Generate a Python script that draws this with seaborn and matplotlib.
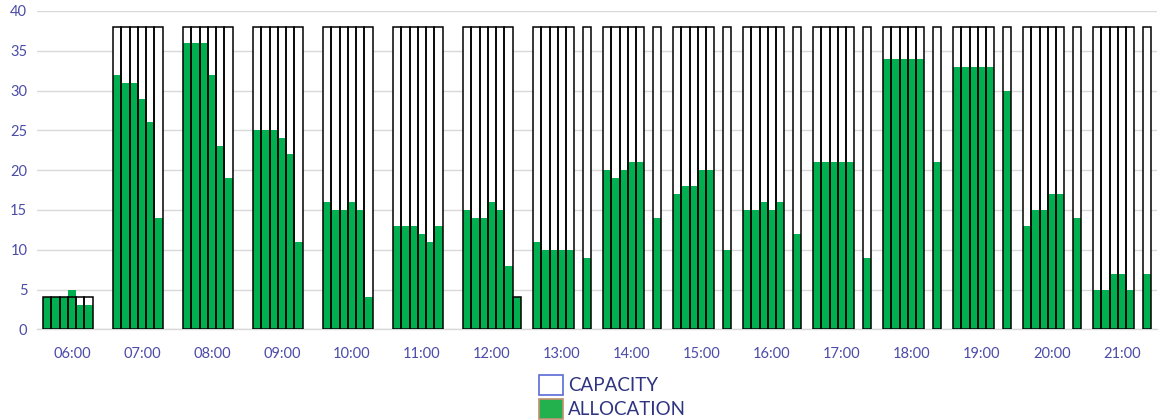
import matplotlib
matplotlib.use('Agg')
import matplotlib.pyplot as plt
from matplotlib.patches import Patch
import pandas as pd
import seaborn as sns
import numpy as np


# chart data (7 slots per hour, None = no bar)
hours = ['06:00', '07:00', '08:00', '09:00', '10:00', '11:00', '12:00', '13:00',
         '14:00', '15:00', '16:00', '17:00', '18:00', '19:00', '20:00', '21:00']
slots = ['S1', 'S2', 'S3', 'S4', 'S5', 'S6', 'S7']

capacity = [
    [4, 4, 4, 4, 4, 4, None],
    [38, 38, 38, 38, 38, 38, None],
    [38, 38, 38, 38, 38, 38, None],
    [38, 38, 38, 38, 38, 38, None],
    [38, 38, 38, 38, 38, 38, None],
    [38, 38, 38, 38, 38, 38, None],
    [38, 38, 38, 38, 38, 38, 4],
    [38, 38, 38, 38, 38, None, 38],
    [38, 38, 38, 38, 38, None, 38],
    [38, 38, 38, 38, 38, None, 38],
    [38, 38, 38, 38, 38, None, 38],
    [38, 38, 38, 38, 38, None, 38],
    [38, 38, 38, 38, 38, None, 38],
    [38, 38, 38, 38, 38, None, 38],
    [38, 38, 38, 38, 38, None, 38],
    [38, 38, 38, 38, 38, None, 38],
]

allocation = [
    [4, 4, 4, 5, 3, 3, None],
    [32, 31, 31, 29, 26, 14, None],
    [36, 36, 36, 32, 23, 19, None],
    [25, 25, 25, 24, 22, 11, None],
    [16, 15, 15, 16, 15, 4, None],
    [13, 13, 13, 12, 11, 13, None],
    [15, 14, 14, 16, 15, 8, 4],
    [11, 10, 10, 10, 10, None, 9],
    [20, 19, 20, 21, 21, None, 14],
    [17, 18, 18, 20, 20, None, 10],
    [15, 15, 16, 15, 16, None, 12],
    [21, 21, 21, 21, 21, None, 9],
    [34, 34, 34, 34, 34, None, 21],
    [33, 33, 33, 33, 33, None, 30],
    [13, 15, 15, 17, 17, None, 14],
    [5, 5, 7, 7, 5, None, 7],
]

# long table for seaborn
rows = []
for h, cap_row, al_row in zip(hours, capacity, allocation):
    for s, c, a in zip(slots, cap_row, al_row):
        rows.append({'hour': h, 'slot': s, 'capacity': c, 'allocation': a})
df = pd.DataFrame(rows)
cap_df = df.dropna(subset=['capacity'])
al_df = df.dropna(subset=['allocation'])

sns.set_style('white')
plt.rcParams['font.family'] = ['Lato', 'DejaVu Sans']

fig = plt.figure(figsize=(11.68, 4.2), dpi=100)
ax = fig.add_axes([37 / 1168, 1 - 329.3 / 420, 1120 / 1168, 318.3 / 420])

green = '#00B050'
bw = 0.833

# white fill of the capacity bars (hides grid)
sns.barplot(data=cap_df, x='hour', y='capacity', hue='slot', order=hours, hue_order=slots,
            palette=['white'] * 7, saturation=1, width=bw, dodge=True, errorbar=None,
            legend=False, linewidth=0, ax=ax, zorder=1)
# allocation bars
sns.barplot(data=al_df, x='hour', y='allocation', hue='slot', order=hours, hue_order=slots,
            palette=[green] * 7, saturation=1, width=bw, dodge=True, errorbar=None,
            legend=False, linewidth=0, ax=ax, zorder=2)
# capacity outlines
sns.barplot(data=cap_df, x='hour', y='capacity', hue='slot', order=hours, hue_order=slots,
            palette=['black'] * 7, saturation=1, width=bw, dodge=True, errorbar=None,
            legend=False, fill=False, linewidth=1.1, ax=ax, zorder=3)

ax.set_ylim(0, 40)
ax.set_xlim(-0.5, len(hours) - 0.5)
ax.set_yticks(np.arange(0, 41, 5))
ax.yaxis.grid(True, color='#D9D9D9', linewidth=1)
ax.set_axisbelow(True)
ax.set_xlabel('')
ax.set_ylabel('')

for side in ['top', 'right', 'left']:
    ax.spines[side].set_visible(False)
ax.spines['bottom'].set_color('#D9D9D9')
ax.spines['bottom'].set_linewidth(1)

tick_color = '#4B4BA8'
ax.set_xticks(np.arange(-0.5, len(hours), 1), minor=True)
ax.tick_params(axis='x', which='minor', length=6, color='#D9D9D9', width=1)
ax.tick_params(axis='x', which='major', length=0, pad=13, labelsize=10.5, labelcolor=tick_color)
ax.tick_params(axis='y', length=0, pad=7, labelsize=10.5, labelcolor=tick_color)

handles = [Patch(facecolor='white', edgecolor='#5B6BD6', linewidth=1.2, label='CAPACITY'),
           Patch(facecolor='#22B14C', edgecolor='#C09070', linewidth=1.2, label='ALLOCATION')]
fig.legend(handles=handles, loc='upper left', bbox_to_anchor=(526 / 1168, 1 - 362 / 420),
           frameon=False, fontsize=13.5, handlelength=1.25, handleheight=1.25,
           handletextpad=0.3, labelspacing=0.2, labelcolor='#2E3480', borderpad=0.2)

plt.savefig('out.png', dpi=100)
plt.close()
